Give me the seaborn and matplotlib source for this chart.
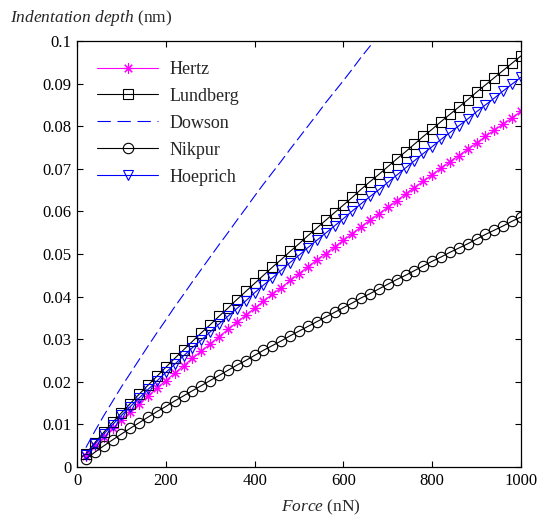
import matplotlib
matplotlib.use("Agg")
import matplotlib.pyplot as plt
import matplotlib.ticker as mticker
import seaborn as sns

force = [20 * k for k in range(1, 51)]

hertz = [0.00267, 0.00491, 0.00702, 0.00904, 0.0110, 0.0129, 0.0148, 0.0166, 0.0185, 0.0203,
         0.0220, 0.0238, 0.0255, 0.0272, 0.0289, 0.0306, 0.0323, 0.0340, 0.0356, 0.0373,
         0.0389, 0.0406, 0.0421, 0.0438, 0.0454, 0.0470, 0.0486, 0.0501, 0.0517, 0.0532,
         0.0548, 0.0564, 0.0580, 0.0594, 0.0610, 0.0625, 0.0641, 0.0656, 0.0671, 0.0686,
         0.0702, 0.0717, 0.0731, 0.0746, 0.0761, 0.0776, 0.0791, 0.0805, 0.0820, 0.0835]

lundberg = [0.00309, 0.00567, 0.00812, 0.01045, 0.0127, 0.0149, 0.0171, 0.0192, 0.0213, 0.0234,
            0.0255, 0.0275, 0.0295, 0.0315, 0.0334, 0.0354, 0.0373, 0.0393, 0.0412, 0.0431,
            0.0450, 0.0469, 0.0487, 0.0506, 0.0524, 0.0543, 0.0561, 0.0579, 0.0597, 0.0615,
            0.0633, 0.0652, 0.0670, 0.0687, 0.0705, 0.0723, 0.0740, 0.0758, 0.0776, 0.0793,
            0.0811, 0.0828, 0.0845, 0.0862, 0.0880, 0.0897, 0.0914, 0.0931, 0.0948, 0.0965]

dowson = [0.00455, 0.00837, 0.0120, 0.0154, 0.0188, 0.0220, 0.0252, 0.0284, 0.0315, 0.0345,
          0.0376, 0.0405, 0.0435, 0.0464, 0.0493, 0.0522, 0.0550, 0.0579, 0.0607, 0.0636,
          0.0664, 0.0691, 0.0718, 0.0746, 0.0773, 0.0800, 0.0827, 0.0855, 0.0881, 0.0907,
          0.0934, 0.0962, 0.0988, 0.1013, 0.1039, 0.1066, 0.1092, 0.1118, 0.1144, 0.1170,
          0.1196, 0.1221, 0.1246, 0.1271, 0.1297, 0.1323, 0.1347, 0.1372, 0.1398, 0.1423]

nikpur = [0.00188, 0.00345, 0.00494, 0.00636, 0.00774, 0.00909, 0.0104, 0.0117, 0.0130, 0.0142,
          0.0155, 0.0167, 0.0179, 0.0191, 0.0203, 0.0215, 0.0227, 0.0239, 0.0250, 0.0262,
          0.0274, 0.0285, 0.0296, 0.0308, 0.0319, 0.0330, 0.0341, 0.0352, 0.0363, 0.0374,
          0.0385, 0.0397, 0.0407, 0.0418, 0.0429, 0.0440, 0.0450, 0.0461, 0.0472, 0.0483,
          0.0493, 0.0504, 0.0514, 0.0524, 0.0535, 0.0546, 0.0556, 0.0566, 0.0577, 0.0587]

hoeprich = [0.00293, 0.00538, 0.00770, 0.00991, 0.0121, 0.0142, 0.0162, 0.0182, 0.0202, 0.0222,
            0.0241, 0.0261, 0.0280, 0.0298, 0.0317, 0.0336, 0.0354, 0.0372, 0.0390, 0.0409,
            0.0427, 0.0444, 0.0462, 0.0480, 0.0497, 0.0515, 0.0532, 0.0549, 0.0566, 0.0583,
            0.0601, 0.0618, 0.0635, 0.0651, 0.0668, 0.0685, 0.0702, 0.0719, 0.0736, 0.0752,
            0.0769, 0.0785, 0.0801, 0.0817, 0.0834, 0.0850, 0.0866, 0.0883, 0.0899, 0.0915]

x_ticks = [0, 200, 400, 600, 800, 1000]
y_ticks = [0, 0.01, 0.02, 0.03, 0.04, 0.05, 0.06, 0.07, 0.08, 0.09, 0.1]

sns.set_style("ticks")
plt.rcParams["font.family"] = ["Liberation Serif", "DejaVu Serif"]
plt.rcParams["mathtext.fontset"] = "custom"
plt.rcParams["mathtext.rm"] = "Liberation Serif"
plt.rcParams["mathtext.it"] = "Liberation Serif:italic"

fig = plt.figure(figsize=(5.43, 5.16), dpi=100)
ax = fig.add_axes([77 / 543, 49 / 516, 444 / 543, 426 / 516])

lw = 0.8
sns.lineplot(x=force, y=hertz, ax=ax, color=(1, 0, 1), lw=lw, marker=(8, 2, 0),
             markersize=7.5, markerfacecolor=(1, 0, 1), markeredgecolor=(1, 0, 1),
             markeredgewidth=0.8, label="Hertz")
sns.lineplot(x=force, y=lundberg, ax=ax, color="black", lw=lw, marker="s",
             markersize=7.5, markerfacecolor="none", markeredgecolor="black",
             markeredgewidth=0.8, label="Lundberg")
sns.lineplot(x=force, y=dowson, ax=ax, color=(0, 0, 1), lw=lw,
             label="Dowson")
ax.lines[-1].set_dashes([10, 4])
sns.lineplot(x=force, y=nikpur, ax=ax, color="black", lw=lw, marker="o",
             markersize=7.5, markerfacecolor="none", markeredgecolor="black",
             markeredgewidth=0.8, label="Nikpur")
sns.lineplot(x=force, y=hoeprich, ax=ax, color=(0, 0, 1), lw=lw, marker="v",
             markersize=6.5, markerfacecolor="none", markeredgecolor=(0, 0, 1),
             markeredgewidth=0.8, label="Hoeprich")

ax.set_xlim(0, 1000)
ax.set_ylim(0, 0.1)
ax.set_xticks(x_ticks)
ax.set_yticks(y_ticks)
ax.yaxis.set_major_formatter(mticker.FuncFormatter(lambda v, p: f"{v:g}"))
ax.tick_params(direction="in", top=True, right=True, length=4, width=0.8,
               labelsize=12, colors="black", pad=4)
for s in ax.spines.values():
    s.set_visible(True)
    s.set_linewidth(0.9)
    s.set_color("black")

ax.set_xlabel("")
ax.set_ylabel("")

leg = ax.legend(loc="upper left", frameon=False, fontsize=13, handlelength=3.4,
                labelspacing=0.55, bbox_to_anchor=(0.0, 1.0), borderaxespad=0.7,
                handletextpad=0.6)
leg.get_lines()[2].set_dashes([12, 6])

fig.text(10 / 543, 1 - 18 / 516, r"$\it{Indentation\ depth}$ (nm)", fontsize=12.5,
         ha="left", va="center")
fig.text(321 / 543, 1 - 507 / 516, r"$\it{Force}$ (nN)", fontsize=12.5,
         ha="center", va="center")

fig.savefig("out.png", dpi=100, facecolor="white")
